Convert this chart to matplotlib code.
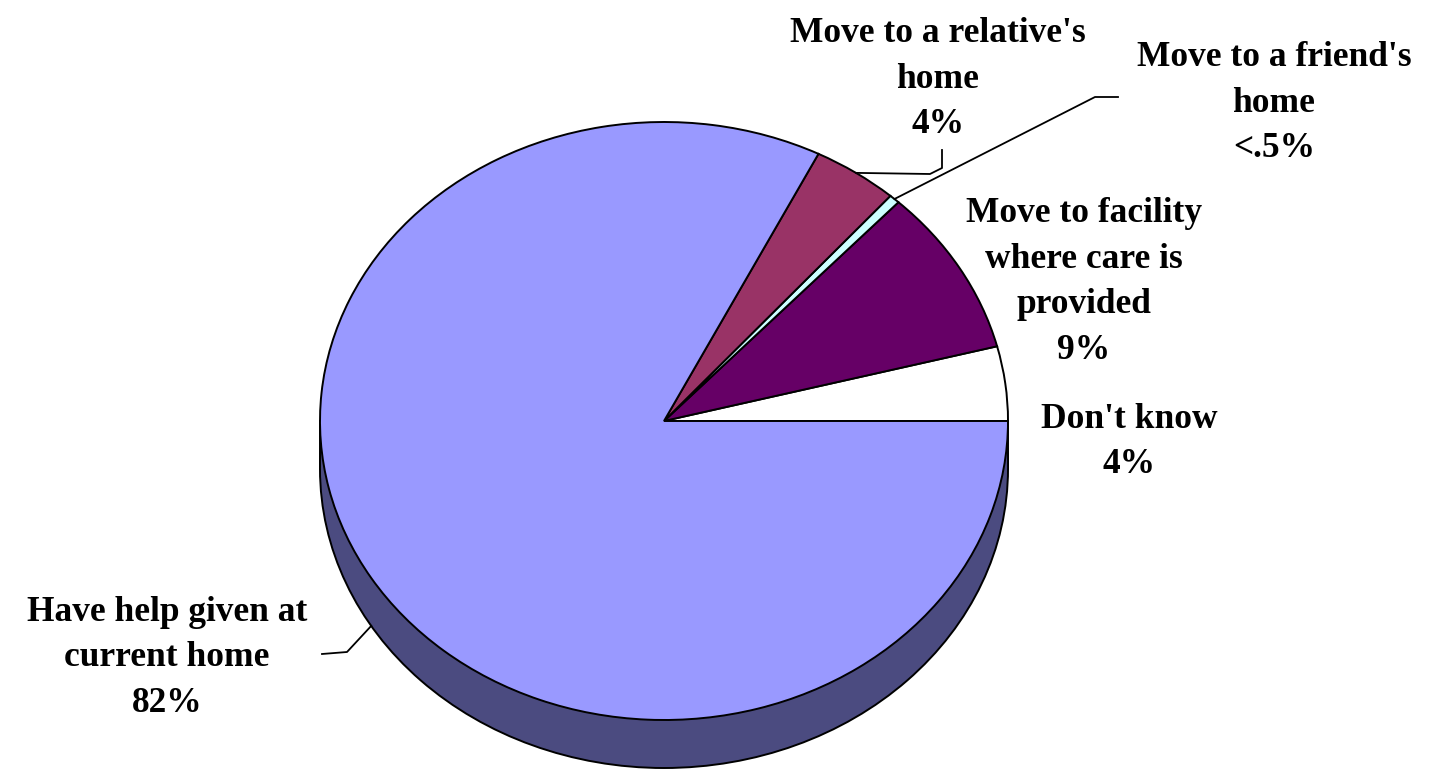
import numpy as np
import matplotlib
matplotlib.use("Agg")
import matplotlib.pyplot as plt
from matplotlib.patches import Ellipse, Rectangle

# slices, counter-clockwise from 3 o'clock
labels = ["Don't know", "Move to facility\nwhere care is\nprovided",
          "Move to a friend's\nhome", "Move to a relative's\nhome",
          "Have help given at\ncurrent home"]
pct_labels = ["4%", "9%", "<.5%", "4%", "82%"]
values = [4, 9, 0.5, 4, 82]
colors = ["#FFFFFF", "#660066", "#CCFFFF", "#993366", "#9999FF"]
side_color = "#4B4B80"

W, H = 1429, 770
CX, CY, RX, RY = 664, 421, 344, 299   # pixel geometry of the top ellipse
depth = 48 / RY


def to_data(px, py):
    return (px - CX) / RX, (CY - py) / RY


fig = plt.figure(figsize=(W / 100, H / 100), dpi=100)
ax = fig.add_axes([0, 0, 1, 1])

# 3d side of the pie
ax.add_patch(Ellipse((0, -depth), 2, 2, facecolor=side_color,
                     edgecolor="black", linewidth=1.4, zorder=1))
ax.add_patch(Rectangle((-1, -depth), 2, depth, facecolor=side_color,
                       edgecolor="none", zorder=1))
ax.plot([-1, -1], [-depth, 0], color="black", lw=1.4, zorder=1)
ax.plot([1, 1], [-depth, 0], color="black", lw=1.4, zorder=1)

wedges, _ = ax.pie(values, colors=colors, startangle=0, counterclock=True,
                   wedgeprops=dict(edgecolor="black", linewidth=1.4))
for w in wedges:
    w.set_zorder(2)

font = dict(family="Liberation Serif", weight="bold", fontsize=25.5,
            ha="center", va="center", linespacing=1.5, color="black")

text_pos = [(1129, 442), (1084, 282), (1274, 103), (938, 79), (167, 658)]
for lab, pct, (px, py) in zip(labels, pct_labels, text_pos):
    x, y = to_data(px, py)
    ax.text(x, y, lab + "\n" + pct, **font)


def mid(w):
    a = np.deg2rad((w.theta1 + w.theta2) / 2)
    return np.cos(a), np.sin(a)

# leader lines
lw = 1.3
mx, my = mid(wedges[3])
pts = [(mx, my)] + [to_data(*p) for p in [(930, 174), (942, 168), (942, 150)]]
ax.plot(*zip(*pts), color="black", lw=lw, zorder=3)

mx, my = mid(wedges[2])
pts = [(mx, my)] + [to_data(*p) for p in [(1095, 97), (1118, 97)]]
ax.plot(*zip(*pts), color="black", lw=lw, zorder=3)

mx, my = mid(wedges[4])
pts = [(mx, my - depth)] + [to_data(*p) for p in [(347, 652), (322, 654)]]
ax.plot(*zip(*pts), color="black", lw=lw, zorder=3)

ax.set_aspect("auto")
x0, y0 = to_data(0, H)
x1, y1 = to_data(W, 0)
ax.set_xlim(x0, x1)
ax.set_ylim(y0, y1)
ax.axis("off")

fig.savefig("out.png", dpi=100, facecolor="white")
